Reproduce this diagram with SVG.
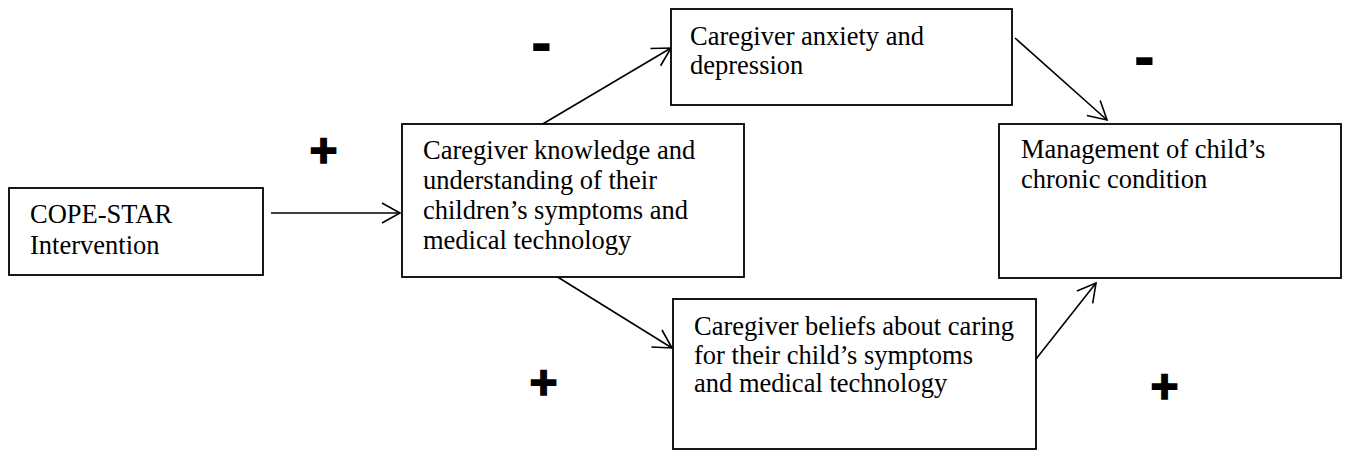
<svg xmlns="http://www.w3.org/2000/svg" width="1349" height="451" viewBox="0 0 1349 451">
<style>
.box{fill:#fff;stroke:#000;stroke-width:1.8}
.t{font-family:"Liberation Serif","Times New Roman",serif;font-size:26.5px;fill:#000}
.c{fill:none;stroke:#000;stroke-width:1.6}
.sign{font-family:"Liberation Sans",Arial,sans-serif;font-weight:bold;fill:#000;text-anchor:middle}
</style>
<defs>
<marker id="arr" markerUnits="userSpaceOnUse" viewBox="-21 -12 23 24" markerWidth="23" markerHeight="24" refX="0" refY="0" orient="auto" overflow="visible">
<path d="M-18,-10 L0,0 L-18,10" fill="none" stroke="#000" stroke-width="1.6"/>
</marker>
</defs>
<rect width="1349" height="451" fill="#fff"/>
<g id="connectors">
<line class="c" x1="271" y1="213" x2="400" y2="213" marker-end="url(#arr)"/>
<line class="c" x1="541" y1="125" x2="671" y2="48" marker-end="url(#arr)"/>
<line class="c" x1="556" y1="276" x2="672" y2="348" marker-end="url(#arr)"/>
<line class="c" x1="1015" y1="38" x2="1107" y2="120" marker-end="url(#arr)"/>
<line class="c" x1="1036" y1="359" x2="1096" y2="283" marker-end="url(#arr)"/>
</g>
<g id="node-cope">
<rect class="box" x="9" y="188" width="254" height="87"/>
<text class="t" x="30" y="223">COPE-STAR</text>
<text class="t" x="30" y="254">Intervention</text>
</g>
<g id="node-knowledge">
<rect class="box" x="402" y="124" width="342" height="153"/>
<text class="t" x="423" y="159">Caregiver knowledge and</text>
<text class="t" x="423" y="189">understanding of their</text>
<text class="t" x="423" y="219">children’s symptoms and</text>
<text class="t" x="423" y="249">medical technology</text>
</g>
<g id="node-anxiety">
<rect class="box" x="671" y="9" width="341" height="96"/>
<text class="t" x="690" y="45">Caregiver anxiety and</text>
<text class="t" x="690" y="74">depression</text>
</g>
<g id="node-management">
<rect class="box" x="999" y="124" width="342" height="154"/>
<text class="t" x="1021" y="158">Management of child’s</text>
<text class="t" x="1021" y="188">chronic condition</text>
</g>
<g id="node-beliefs">
<rect class="box" x="673" y="299" width="363" height="150"/>
<text class="t" x="694" y="335">Caregiver beliefs about caring</text>
<text class="t" x="694" y="364">for their child’s symptoms</text>
<text class="t" x="694" y="392">and medical technology</text>
</g>
<g id="signs">
<text class="sign" x="323.5" y="166.5" font-size="48" stroke="#000" stroke-width="1.5">+</text>
<text class="sign" x="543.5" y="398.5" font-size="48" stroke="#000" stroke-width="1.5">+</text>
<text class="sign" x="1164.5" y="402.5" font-size="48" stroke="#000" stroke-width="1.5">+</text>
<text class="sign" x="541.5" y="63.5" font-size="64">-</text>
<text class="sign" x="1144.5" y="77.5" font-size="64">-</text>
</g>
</svg>
